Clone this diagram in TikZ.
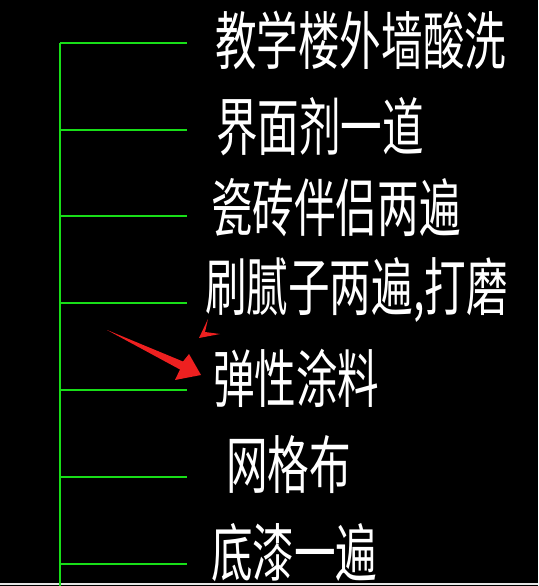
\documentclass[tikz,border=0pt]{standalone}
\usepackage{fontspec}
\usepackage{xcolor}
\newfontfamily\cjk[FakeStretch=0.66]{Noto Sans CJK SC}
\definecolor{leadgreen}{RGB}{24,222,24}
\definecolor{markred}{RGB}{238,32,32}
\usetikzlibrary{calc}

\begin{document}
\begin{tikzpicture}[x=1pt,y=-1pt,
    leader/.style={leadgreen, line width=1.4pt},
    layer/.style={anchor=west, inner sep=0pt, text=white,
      font=\cjk\fontsize{63}{63}\selectfont}]

  % Background
  \fill[black] (0,0) rectangle (538,586);
  \useasboundingbox (0,0) rectangle (538,586);

  % Frame bottom edge
  \draw[white!90!black, line width=1.6pt] (0,584) -- (538,584);

  % Leader ends
  \coordinate (top) at (60,43);
  \coordinate (bot) at (60,586);
  \coordinate (l1) at (60,43);   \coordinate (r1) at (187,43);
  \coordinate (l2) at (60,130);  \coordinate (r2) at (187,130);
  \coordinate (l3) at (60,216);  \coordinate (r3) at (187,216);
  \coordinate (l4) at (60,303);  \coordinate (r4) at (187,303);
  \coordinate (l5) at (60,390);  \coordinate (r5) at (187,390);
  \coordinate (l6) at (60,477);  \coordinate (r6) at (187,477);
  \coordinate (l7) at (60,564);  \coordinate (r7) at (187,564);

  % Leader lines
  \draw[leader] (top) -- (bot);
  \draw[leader] (l1) -- (r1);
  \draw[leader] (l2) -- (r2);
  \draw[leader] (l3) -- (r3);
  \draw[leader] (l4) -- (r4);
  \draw[leader] (l5) -- (r5);
  \draw[leader] (l6) -- (r6);
  \draw[leader] (l7) -- (r7);

  % Layer texts
  \node[layer] (t1) at (215,40)  {教学楼外墙酸洗};
  \node[layer] (t2) at (216,127) {界面剂一道};
  \node[layer] (t3) at (211,208) {瓷砖伴侣两遍};
  \node[layer] (t4) at (205,290) {刷腻子两遍,打磨};
  \node[layer] (t5) at (213,378) {弹性涂料};
  \node[layer] (t6) at (226,465) {网格布};
  \node[layer] (t7) at (211,553) {底漆一遍};

  % Red pointer
  \fill[markred] (107,330) -- (183,361.5) -- (189,354) -- (201,375)
    -- (175,380) -- (180,369.5) -- cycle;
  \fill[markred] (208,319) -- (205,332) -- (220,334) -- (199,338) -- cycle;

\end{tikzpicture}
\end{document}
